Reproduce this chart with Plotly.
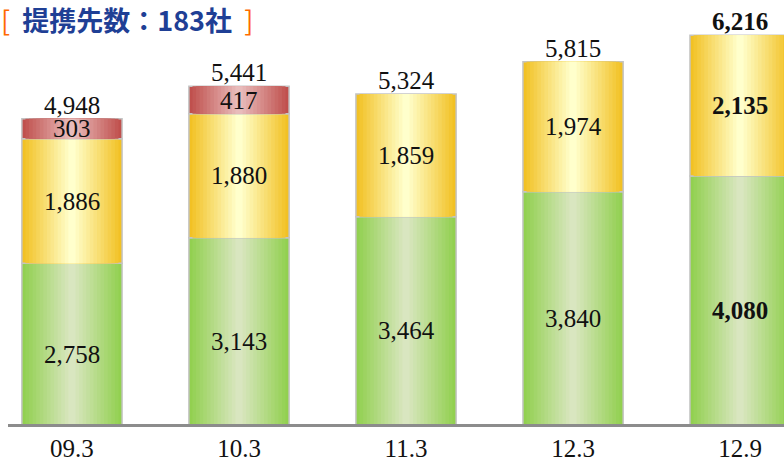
import numpy as np
import plotly.graph_objects as go

categories = ["09.3", "10.3", "11.3", "12.3", "12.9"]
green_vals = [2758, 3143, 3464, 3840, 4080]
yellow_vals = [1886, 1880, 1859, 1974, 2135]
red_vals = [303, 417, 0, 0, 0]
totals = [4948, 5441, 5324, 5815, 6216]
title_text = "提携先数：183社"

x = np.arange(len(categories))
g = np.array(green_vals, dtype=float)
yv = np.array(yellow_vals, dtype=float)
r = np.array(red_vals, dtype=float)

series = [
    (g, np.zeros_like(g), "#92d050", "#d9e6c0"),
    (yv, g, "#f2c124", "#ffffcc"),
    (r, g + yv, "#c0504d", "#e8bcbb"),
]

def hex2rgb(h):
    h = h.lstrip("#")
    return np.array([int(h[i:i + 2], 16) for i in (0, 2, 4)], dtype=float)

def mix(a, b, t):
    c = hex2rgb(a) * (1 - t) + hex2rgb(b) * t
    return "rgb(%d,%d,%d)" % tuple(np.round(c).astype(int))

BW = 0.6
N = 14
fig = go.Figure()
for vals, base, edge, center in series:
    mask = vals > 0
    xs = x[mask]
    vs = vals[mask]
    bs = base[mask]
    for k in range(N):
        t = k / (N - 1)
        w = BW * (1 - k / N)
        fig.add_trace(go.Bar(
            x=xs, y=vs, base=bs, width=w,
            marker=dict(color=mix(edge, center, t),
                        line=dict(color="#c4c4c4" if k == 0 else "rgba(0,0,0,0)",
                                  width=1.5 if k == 0 else 0)),
            showlegend=False, hoverinfo="skip",
        ))

font_fam = "Liberation Serif, DejaVu Serif, serif"
FS = 25
annotations = []
last = len(categories) - 1
for vals, base, _, _ in series:
    for i in range(len(categories)):
        if vals[i] > 0:
            txt = f"{int(vals[i]):,}"
            if i == last:
                txt = f"<b>{txt}</b>"
            annotations.append(dict(x=x[i], y=base[i] + vals[i] / 2, text=txt,
                                    showarrow=False, font=dict(family=font_fam, size=FS, color="#111111")))
for i, tot in enumerate(totals):
    txt = f"{tot:,}"
    if i == last:
        txt = f"<b>{txt}</b>"
    annotations.append(dict(x=x[i], y=tot, text=txt, yanchor="bottom", yshift=-2,
                            showarrow=False, font=dict(family=font_fam, size=FS, color="#111111")))

annotations.append(dict(
    xref="paper", yref="paper", x=0, y=1, xanchor="left", yanchor="middle", xshift=-9, yshift=1,
    text='<span style="color:#ff6a00">[</span>  <b>' + title_text + '</b>  <span style="color:#ff6a00">]</span>',
    showarrow=False, font=dict(family="Noto Sans CJK JP", size=27, color="#1f3f95"),
))

fig.update_layout(
    width=784, height=462,
    margin=dict(l=8, r=0, t=20, b=36),
    barmode="overlay",
    plot_bgcolor="white", paper_bgcolor="white",
    annotations=annotations,
    xaxis=dict(range=[-0.383, 4.263], tickvals=list(x), ticktext=categories,
               showgrid=False, zeroline=False, showline=True, linecolor="#8c8c8c", linewidth=2.5,
               ticks="", tickfont=dict(family=font_fam, size=FS, color="#111111")),
    yaxis=dict(range=[321, 6445], visible=False, showgrid=False, zeroline=False),
)

fig.write_html("out.html", config={"displayModeBar": False},
               post_script="document.body.style.margin='0';document.body.style.padding='0';")
